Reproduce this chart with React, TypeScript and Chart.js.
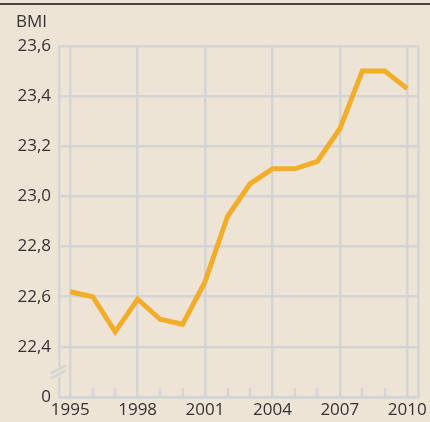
import React, { useEffect, useRef } from "react";
import { Chart, registerables } from "chart.js";

Chart.register(...registerables);

const years = [1995, 1996, 1997, 1998, 1999, 2000, 2001, 2002, 2003, 2004, 2005, 2006, 2007, 2008, 2009, 2010];
const bmi = [22.62, 22.6, 22.46, 22.59, 22.51, 22.49, 22.66, 22.92, 23.05, 23.11, 23.11, 23.14, 23.27, 23.5, 23.5, 23.43];
const majorYears = [1995, 1998, 2001, 2004, 2007, 2010];
const yTickValues = [22.2, 22.4, 22.6, 22.8, 23.0, 23.2, 23.4, 23.6];
const yTickLabels = ["0", "22,4", "22,6", "22,8", "23,0", "23,2", "23,4", "23,6"];
const yAxisTitle = "BMI";

const BG = "#EEE4D6";
const GRID = "#D3D4D5";
const LINE = "#F2AE2B";
const TEXT = "#333333";
const FONT = "'Open Sans', sans-serif";

export default function App() {
  const ref = useRef<HTMLCanvasElement>(null);

  useEffect(() => {
    document.body.style.margin = "0";
    const canvas = ref.current!;
    const decor = {
      id: "decor",
      beforeDraw(chart: any) {
        const c = chart.ctx;
        c.save();
        c.fillStyle = BG;
        c.fillRect(0, 0, chart.width, chart.height);
        c.restore();
      },
      afterDraw(chart: any) {
        const c = chart.ctx;
        const xs = chart.scales.x;
        const ys = chart.scales.y;
        const area = chart.chartArea;
        c.save();
        // top rule
        c.fillStyle = "#4A4541";
        c.fillRect(0, 3, chart.width, 2);
        // axis title
        c.fillStyle = TEXT;
        c.font = `17px ${FONT}`;
        c.textAlign = "left";
        c.textBaseline = "middle";
        c.fillText(yAxisTitle, 16, 22);
        // minor ticks
        c.strokeStyle = GRID;
        c.lineWidth = 2.5;
        years.forEach((yr) => {
          if (majorYears.includes(yr)) return;
          const px = Math.round(xs.getPixelForValue(yr));
          c.beginPath();
          c.moveTo(px, area.bottom);
          c.lineTo(px, area.bottom - 9);
          c.stroke();
        });
        // right border
        c.beginPath();
        c.moveTo(area.right, area.top);
        c.lineTo(area.right, area.bottom);
        c.stroke();
        // axis break
        const by = ys.getPixelForValue(22.3);
        c.fillStyle = BG;
        c.fillRect(area.left - 2, by - 5, 4, 10);
        c.strokeStyle = GRID;
        c.lineWidth = 2.5;
        for (const off of [-2.5, 2.5]) {
          c.beginPath();
          c.moveTo(area.left - 8, by + 4 + off);
          c.lineTo(area.left + 7, by - 4 + off);
          c.stroke();
        }
        c.restore();
      },
    };

    const chart = new Chart(canvas, {
      type: "line",
      data: {
        datasets: [
          {
            data: years.map((y, i) => ({ x: y, y: bmi[i] })),
            borderColor: LINE,
            borderWidth: 5,
            pointRadius: 0,
            tension: 0,
            borderJoinStyle: "miter",
            fill: false,
          },
        ],
      },
      options: {
        responsive: false,
        animation: false,
        layout: { padding: { top: 46, left: 0, right: 10, bottom: 0 } },
        plugins: { legend: { display: false }, tooltip: { enabled: false } },
        scales: {
          x: {
            type: "linear",
            min: 1994.5,
            max: 2010.5,
            afterBuildTicks: (s: any) => {
              s.ticks = majorYears.map((v) => ({ value: v }));
            },
            afterFit: (s: any) => {
              s.height = 25;
            },
            ticks: {
              autoSkip: false,
              maxRotation: 0,
              padding: 3,
              color: TEXT,
              font: { family: FONT, size: 17 },
              callback: (v: any) => String(v),
            },
            grid: { color: GRID, lineWidth: 2.5, drawTicks: false },
            border: { display: true, color: GRID, width: 2.5 },
          },
          y: {
            type: "linear",
            min: 22.2,
            max: 23.6,
            afterBuildTicks: (s: any) => {
              s.ticks = yTickValues.map((v) => ({ value: v }));
            },
            afterFit: (s: any) => {
              s.width = 59;
            },
            ticks: {
              autoSkip: false,
              padding: 8,
              color: TEXT,
              font: { family: FONT, size: 17 },
              callback: (_v: any, i: number) => yTickLabels[i],
            },
            grid: { color: GRID, lineWidth: 2.5, drawTicks: false },
            border: { display: true, color: GRID, width: 2.5 },
          },
        },
      },
      plugins: [decor],
    } as any);
    return () => chart.destroy();
  }, []);

  return <canvas ref={ref} width={430} height={422} style={{ display: "block" }} />;
}
